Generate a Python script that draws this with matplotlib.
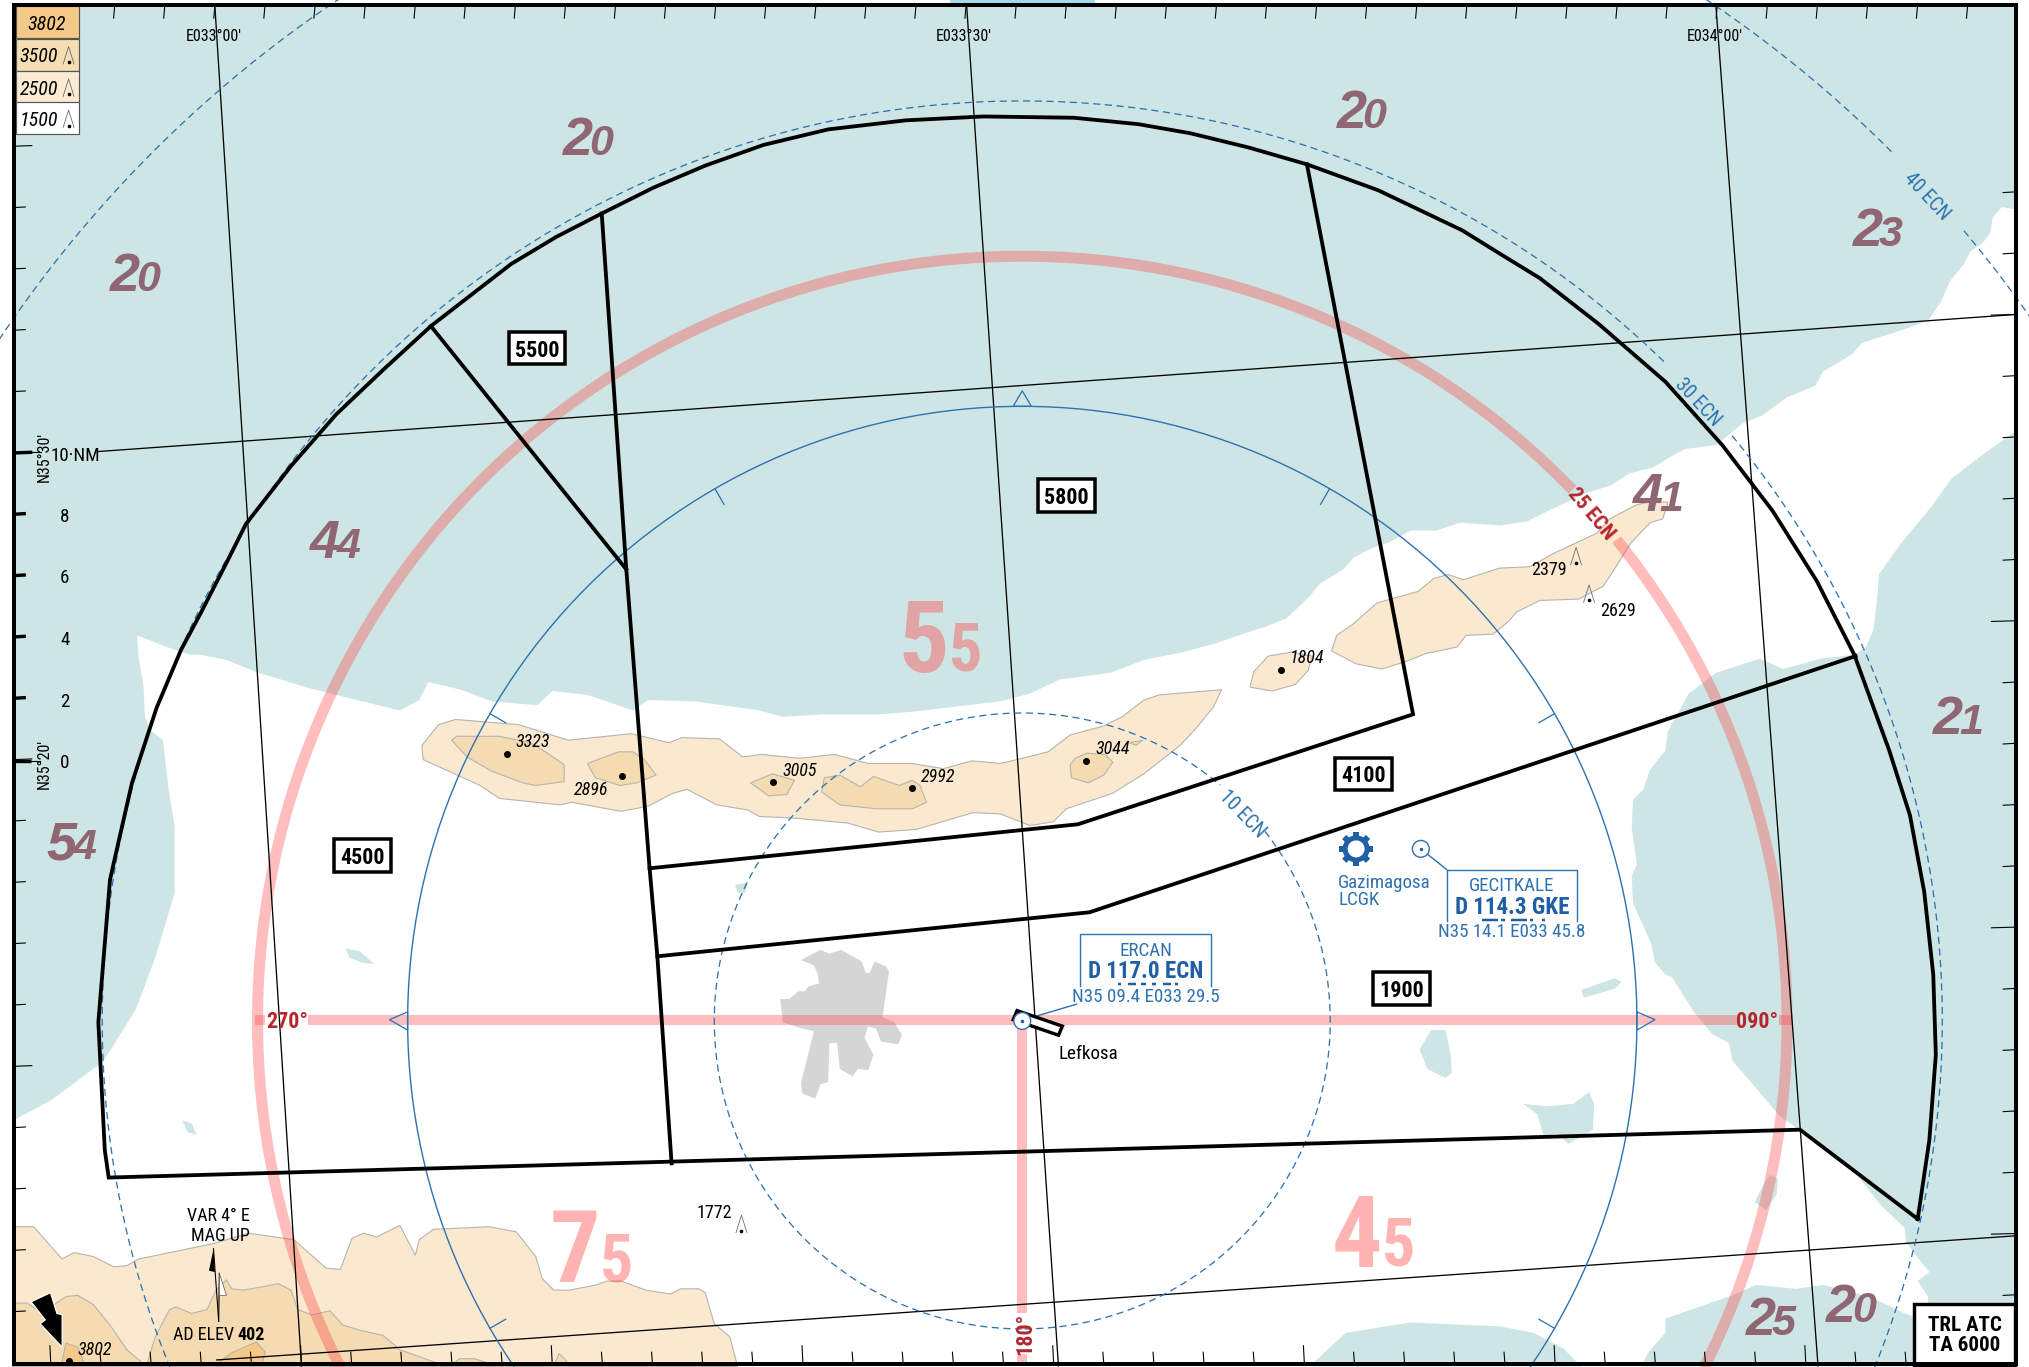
import numpy as np
import matplotlib
matplotlib.use("Agg")
import matplotlib.pyplot as plt
from matplotlib.patches import Polygon, Rectangle, Circle

W, H = 1568, 1056.4
NARROW = ["Roboto Condensed", "Liberation Sans"]
WIDE = ["Liberation Sans"]

SEA = "#CEE5E5"
T1, T2, T3 = "#FAE9CF", "#F4DBB2", "#F4C987"
TEDGE = "#B7B4AE"
BLUE = "#2F72B2"
NAVBLUE = "#1F5FA5"
RED = "#B3272D"
MAUVE = "#8F6672"
PINKLINE = (1.0, 66 / 255, 66 / 255)

north_sea = [(10, 4), (1558, 4), (1558, 162), (1547, 160), (1540, 168), (1538, 180), (1532, 188), (1523, 194),
             (1517, 205), (1507, 217), (1500, 233), (1490, 248), (1467, 256), (1439, 265), (1431, 274), (1409, 287),
             (1403, 298), (1381, 307), (1362, 321), (1347, 327), (1326, 344), (1302, 347), (1291, 353), (1278, 361),
             (1259, 366), (1245, 375), (1226, 381), (1198, 394), (1180, 403), (1159, 406), (1128, 404), (1110, 410),
             (1090, 410), (1074, 419), (1059, 424), (1046, 431), (1038, 440), (1020, 451), (1012, 461), (994, 478),
             (979, 484), (963, 489), (940, 497), (914, 504), (884, 510), (858, 520),
             (819, 525), (796, 536), (773, 542), (705, 550), (679, 552), (637, 552), (605, 554), (587, 549),
             (537, 542), (501, 541), (489, 549), (454, 537), (427, 534), (415, 545), (380, 542), (356, 533),
             (331, 527), (324, 541), (309, 549), (280, 542), (240, 532), (200, 520), (175, 510), (155, 506),
             (147, 506), (129, 500), (106, 491), (107, 507), (111, 531), (112, 554), (117, 565), (126, 572),
             (130, 608), (135, 639), (135, 690), (120, 740), (105, 780), (80, 820), (40, 850), (10, 866)]
east_sea = [(1558, 333), (1534, 350), (1508, 370), (1493, 391), (1469, 420), (1452, 444), (1451, 459), (1448, 486),
            (1442, 500), (1433, 506), (1407, 509), (1378, 517), (1360, 509), (1326, 520), (1305, 536), (1289, 565),
            (1287, 580), (1275, 595), (1270, 610), (1262, 618), (1261, 640), (1265, 668), (1261, 677), (1262, 698),
            (1276, 729), (1279, 744), (1287, 753), (1292, 755), (1309, 782), (1323, 799), (1336, 806), (1339, 820),
            (1352, 835), (1375, 862), (1390, 873), (1435, 908), (1454, 932), (1472, 949), (1473, 960), (1482, 972),
            (1491, 983), (1482, 990), (1490, 1002), (1490, 1056), (1558, 1056)]
se_sea = [(1268, 1056), (1274, 1045), (1287, 1030), (1287, 1019), (1310, 1011), (1339, 1001), (1357, 993), (1388, 996),
          (1409, 993), (1433, 999), (1451, 1005), (1472, 1015), (1480, 1018), (1480, 1056)]
s_sea = [(1012, 1056), (1040, 1030), (1090, 1022), (1159, 1025), (1185, 1030), (1208, 1042), (1222, 1056)]
lakes = [
    [(1222, 765), (1248, 756), (1253, 759), (1248, 764), (1224, 771)],
    [(1177, 853), (1195, 855), (1216, 853), (1228, 844), (1232, 853), (1231, 873), (1212, 884), (1203, 876), (1193, 878), (1188, 861)],
    [(1106, 796), (1117, 796), (1121, 814), (1122, 829), (1117, 833), (1103, 826), (1097, 811)],
    [(267, 733), (278, 735), (289, 745), (280, 744), (270, 740)],
    [(568, 684), (578, 682), (576, 690), (570, 690)],
    [(141, 866), (148, 868), (152, 877), (145, 875)],
    [(1368, 908), (1374, 911), (1373, 923), (1365, 935), (1356, 929), (1362, 917)],
]
city = [(619, 742), (634, 734), (641, 737), (650, 734), (666, 743), (669, 752), (672, 752), (676, 743), (685, 747),
        (687, 751), (682, 786), (691, 790), (697, 800), (694, 807), (681, 805), (677, 795), (671, 793), (668, 802),
        (675, 815), (671, 827), (663, 826), (659, 832), (649, 826), (647, 806), (641, 806), (640, 836), (634, 838),
        (630, 849), (620, 845), (619, 837), (629, 797), (617, 794), (605, 790), (603, 772), (610, 772), (617, 766),
        (622, 766), (625, 762), (633, 760), (632, 753), (629, 746)]

range_main = [(326, 576), (339, 560), (352, 556), (401, 560), (439, 572), (488, 567), (517, 574), (527, 570), (556, 571),
              (574, 585), (588, 583), (618, 586), (645, 583), (671, 590), (705, 590), (729, 594), (751, 588), (773, 590),
              (786, 587), (810, 581), (827, 568), (853, 561), (867, 554), (884, 541), (896, 537), (944, 533), (938, 546),
              (925, 562), (912, 576), (884, 598), (860, 613), (824, 625), (814, 635), (796, 638), (773, 629), (752, 628),
              (708, 641), (679, 643), (655, 636), (611, 632), (587, 631), (578, 626), (554, 622), (531, 610), (520, 613),
              (501, 623), (480, 627), (442, 620), (433, 622), (386, 617), (371, 607), (327, 587)]
range_1804 = [(966, 531), (969, 519), (980, 507), (998, 504), (1014, 507), (1011, 518), (1001, 529), (983, 534)]
range_karpas = [(1029, 503), (1033, 491), (1046, 482), (1064, 466), (1096, 457), (1108, 447), (1119, 444), (1131, 448),
                (1159, 439), (1182, 438), (1200, 428), (1234, 412), (1244, 401), (1265, 390), (1274, 388), (1289, 388),
                (1285, 401), (1275, 404), (1260, 420), (1252, 433), (1239, 453), (1220, 463), (1190, 464), (1172, 473),
                (1166, 480), (1154, 490), (1133, 491), (1126, 500), (1102, 505), (1087, 511), (1068, 517), (1048, 513)]
range_south = [(10, 948), (26, 948), (48, 973), (57, 968), (72, 971), (88, 979), (98, 978), (107, 973), (165, 961),
               (192, 953), (227, 958), (252, 980), (263, 981), (272, 957), (281, 953), (291, 956), (309, 947), (321, 970),
               (324, 958), (335, 950), (378, 948), (399, 952), (414, 971), (419, 988), (428, 997), (440, 997), (461, 993),
               (469, 990), (480, 990), (499, 997), (518, 1000), (526, 996), (540, 996), (545, 999), (552, 1023),
               (564, 1033), (570, 1056), (10, 1056)]
level2 = [
    [(349, 572), (353, 569), (386, 569), (410, 574), (423, 582), (436, 591), (436, 604), (414, 607), (404, 605), (380, 596), (361, 585)],
    [(454, 590), (478, 581), (489, 581), (498, 587), (507, 599), (492, 605), (479, 607), (460, 601)],
    [(580, 605), (597, 598), (614, 603), (608, 614), (594, 615)],
    [(635, 612), (637, 601), (649, 599), (665, 608), (675, 600), (695, 607), (705, 603), (711, 607), (716, 620), (705, 625), (677, 625), (649, 622)],
    [(827, 591), (831, 586), (840, 582), (854, 583), (860, 589), (853, 599), (841, 605), (828, 601)],
    [(873, 574), (883, 572), (878, 576)],
    [(10, 1007), (21, 1007), (33, 1015), (42, 1008), (51, 1002), (60, 1001), (72, 1008), (85, 1024), (98, 1043), (113, 1056), (10, 1056)],
    [(113, 1056), (120, 1033), (131, 1012), (136, 1010), (148, 1015), (160, 1012), (167, 997), (175, 989), (179, 996), (188, 997),
     (205, 994), (215, 992), (225, 997), (230, 1012), (241, 1016), (255, 1013), (265, 1024), (278, 1028), (296, 1032), (309, 1043), (345, 1056)],
    [(347, 1056), (355, 1050), (367, 1050), (376, 1053), (378, 1056)],
    [(428, 1056), (432, 1046), (442, 1056)],
]
level3 = [
    [(47, 1056), (51, 1038), (60, 1041), (66, 1056)],
    [(165, 1056), (178, 1046), (198, 1037), (205, 1045), (202, 1056)],
]

# MSA sector boundaries
msa_outer = [(1482, 942), (1491, 881), (1496, 815), (1494, 753), (1487, 689), (1476, 630), (1460, 580), (1433, 506),
             (1404, 449), (1370, 395), (1331, 344), (1287, 295), (1235, 250), (1190, 215), (1159, 196), (1130, 178),
             (1065, 147), (1010, 127), (965, 114), (920, 103), (880, 96), (830, 91), (760, 90), (700, 93), (640, 100),
             (590, 112), (545, 128), (505, 145), (465, 165), (430, 183), (395, 204), (333, 252), (297, 285), (260, 320),
             (225, 360), (190, 405), (175, 435), (155, 474), (140, 502), (121, 547), (102, 605), (89, 662), (85, 680),
             (76, 790), (81, 889), (84, 910), (1391, 873), (1482, 942)]
msa_lines = [
    [(1434, 507), (842, 705), (508, 739)],
    [(1010, 127), (1092, 552), (833, 637), (502, 671)],
    [(465, 165), (484, 440), (502, 671), (508, 739), (519, 899)],
    [(333, 252), (484, 440)],
]
msa_alt = ["5500", "5800", "4100", "4500", "1900"]
msa_alt_pos = [(415, 269), (824, 383), (1054, 598), (280, 661), (1083, 764)]

# lat/lon grid
meridians = [((166, 4), (233, 1056)), ((747, 4), (818, 1056)), ((1326, 4), (1405, 1056))]
parallels = [((75, 349), (1558, 243)), ((167, 1051), (1558, 955))]
lon_labels = ["E033°00'", "E033°30'", "E034°00'"]
lon_label_x = [165, 745, 1325]
scale_labels = ["8", "6", "4", "2", "0"]
scale_y = [398, 445, 493, 541, 588]

# range rings, NM scale
CENTER = (790, 789)
R_10, R_20, R_25, R_30, R_40 = 238, 475, 591, 711, 950
ring_ticks = [30, 60, 120, 240, 300, 330]

# grid altitudes: big digit, small digit, centre
mauve_nums = ["20", "20", "20", "23", "41", "44", "54", "21", "25", "20"]
mauve_pos = [(455, 106), (105, 211), (1053, 85), (1452, 176), (1282, 381), (260, 417), (56, 650), (1514, 553), (1369, 1018), (1431, 1008)]
pink_nums = ["55", "75", "45"]
pink_split = [(733, 519), (464, 991), (1068, 979)]

spot_heights = ["3323", "2896", "3005", "2992", "3044", "1804"]
spot_dots = [(392, 583), (481, 600), (597, 604), (705, 609), (839, 588), (990, 518)]
spot_text = [(412, 572), (457, 609), (618, 594), (725, 599), (860, 577), (1010, 507)]
peaks = [(1218, 430), (1228, 459), (573, 946)]
peak_labels = ["2379", "2629", "1772"]
peak_label_pos = [(1197, 439), (1250, 471), (552, 936)]

legend_vals = ["3802", "3500", "2500", "1500"]
legend_cols = [T3, "#F5DEB4", "#FCEBD2", "white"]
legend_top = [5, 30, 55, 79]

fig = plt.figure(figsize=(20.29, 13.67), dpi=100)
ax = fig.add_axes([0, 0, 1, 1])
ax.set_xlim(0, W)
ax.set_ylim(H, 0)
ax.axis("off")


def px(v):
    # reference pixels to points
    return v * 0.72


def bearing_arc(r, b1, b2):
    t = np.radians(np.linspace(b1, b2, 240))
    return CENTER[0] + r * np.sin(t), CENTER[1] - r * np.cos(t)


def label(x, y, s, size, fam=NARROW, color="black", weight="normal", style="normal", rot=0, ha="center", z=20):
    return ax.text(x, y, s, fontsize=px(size), family=fam, color=color, fontweight=weight, fontstyle=style,
                   rotation=rot, rotation_mode="anchor", ha=ha, va="center_baseline", zorder=z)


def peak(x, y, z=12):
    ax.plot([x - 4.2, x, x + 4.2], [y + 6.5, y - 7, y + 6.5], color="#6E6E6E", lw=0.6, zorder=z)
    ax.plot([x], [y + 5], "o", color="black", ms=1.6, zorder=z)


# sliver of the page colour above the frame
ax.add_patch(Rectangle((734, 0), 112, 2.4, fc="#A6DAE9", ec="none", zorder=0))

for poly in [north_sea, east_sea, se_sea, s_sea] + lakes:
    ax.add_patch(Polygon(poly, closed=True, fc=SEA, ec="none", zorder=1))
for poly in [range_main, range_1804, range_karpas, range_south]:
    ax.add_patch(Polygon(poly, closed=True, fc=T1, ec=TEDGE, lw=0.8, zorder=2))
for poly in level2:
    ax.add_patch(Polygon(poly, closed=True, fc=T2, ec=TEDGE, lw=0.8, zorder=3))
for poly in level3:
    ax.add_patch(Polygon(poly, closed=True, fc=T3, ec=TEDGE, lw=0.8, zorder=4))
ax.add_patch(Polygon(city, closed=True, fc="#D5D5D5", ec="none", zorder=4))

# 25 NM arc and the cardinal radials, one path each so overlaps stay flat
x1, y1 = bearing_arc(R_25, -117, 46)
x2, y2 = bearing_arc(R_25, 51, 117)
ax.plot(np.r_[x1, np.nan, x2], np.r_[y1, np.nan, y2], color=PINKLINE, alpha=0.35, lw=px(11), solid_capstyle="butt", zorder=5)
ax.plot([197, 205, np.nan, 238, 1342, np.nan, 1375, 1385, np.nan, 790, 790, np.nan, 790, 790],
        [788, 788, np.nan, 788, 788, np.nan, 788, 788, np.nan, 788, 1015, np.nan, 1046, 1056],
        color=PINKLINE, alpha=0.35, lw=px(10), solid_capstyle="butt", zorder=5)

for a, b in meridians + parallels:
    ax.plot([a[0], b[0]], [a[1], b[1]], color="black", lw=px(1.3), zorder=6, solid_capstyle="butt")

# ticks on the frame
for n in range(-3, 36):
    tx = 166 + n * 38.7
    ax.plot([tx, tx - 0.8], [5, 14], color="black", lw=px(1.1), zorder=7)
for n in range(-5, 33):
    tx = 233 + n * 38.75
    if 10 < tx < 1478:
        ax.plot([tx, tx - 0.7], [1054, 1040 if n % 5 == 0 else 1045], color="black", lw=px(1.1), zorder=7)
for n in range(-5, 15):
    ty = 350 + n * 47.4
    if 105 < ty < 1040:
        bold = 0 <= n <= 4
        lt = 25 if n in (0, 5, -5, 10) else 20
        ax.plot([11, lt], [ty, ty - 0.5], color="black", lw=px(3.4 if bold else 1.1), zorder=7, solid_capstyle="butt")
ax.plot([11, 24], [588, 588], color="black", lw=px(3.4), zorder=7, solid_capstyle="butt")
ax.plot([24, 32], [349, 349], color="black", lw=px(1.1), zorder=7)
ax.plot([24, 31], [588, 588], color="black", lw=px(1.1), zorder=7)
for n in range(-2, 17):
    ty = 243 + n * 47.35
    if 100 < ty < 1010:
        ax.plot([1557, 1539 if n % 5 == 0 else 1548], [ty, ty + 0.5], color="black", lw=px(1.1), zorder=7)

# range rings
dash = (0, (5.5, 3.5))
for r, gaps in [(R_10, (40, 52)), (R_30, (44.5, 50.5)), (R_40, (45, 50))]:
    x, y = bearing_arc(r, -180, gaps[0])
    ax.plot(x, y, color=BLUE, lw=px(1.3), ls=dash, zorder=8)
    x, y = bearing_arc(r, gaps[1], 180)
    ax.plot(x, y, color=BLUE, lw=px(1.3), ls=dash, zorder=8)
ring = bearing_arc(R_20, -180, 180)
ax.plot(ring[0], ring[1], color=BLUE, lw=px(1.4), zorder=8)
for b in ring_ticks:
    xa, ya = bearing_arc(R_20, b, b)
    xb, yb = bearing_arc(R_20 - 14, b, b)
    ax.plot([xa[0], xb[0]], [ya[0], yb[0]], color=BLUE, lw=px(1.3), zorder=8)
cx, cy = CENTER
for tri in ([(cx - 7, cy - R_20), (cx, cy - R_20 - 12), (cx + 7, cy - R_20)],
            [(cx + R_20, cy - 7), (cx + R_20 + 14, cy - 1), (cx + R_20, cy + 7)],
            [(cx - R_20, cy - 7), (cx - R_20 - 14, cy - 1), (cx - R_20, cy + 7)]):
    ax.add_patch(Polygon(tri, closed=True, fc="none", ec=BLUE, lw=px(1.3), zorder=8))

label(961, 628, "10 ECN", 20, color=BLUE, rot=-46)
label(1313, 310, "30 ECN", 20, color=BLUE, rot=-47)
label(1490, 151, "40 ECN", 20, color=BLUE, rot=-47)
label(1231, 396, "25 ECN", 21, color=RED, weight="bold", rot=-50)
label(222, 788, "270°", 22, color=RED, weight="bold")
label(1358, 788, "090°", 22, color=RED, weight="bold")
label(790, 1031, "180°", 22, color=RED, weight="bold", rot=90)

# MSA sectors
xs, ys = zip(*msa_outer)
ax.plot(xs, ys, color="black", lw=px(3.8), solid_joinstyle="miter", zorder=10)
for line in msa_lines:
    xs, ys = zip(*line)
    ax.plot(xs, ys, color="black", lw=px(3.8), solid_joinstyle="miter", zorder=10)
for s, (x, y) in zip(msa_alt, msa_alt_pos):
    ax.add_patch(Rectangle((x - 22, y - 12.5), 44, 25, fc="white", ec="black", lw=px(3.5), zorder=11))
    label(x, y, s, 22, weight="bold")

# terrain spots and obstacles
for s, d, t in zip(spot_heights, spot_dots, spot_text):
    ax.plot([d[0]], [d[1]], "o", color="black", ms=px(7), mew=0, zorder=12)
    label(t[0], t[1], s, 18, style="italic")
for p, s, t in zip(peaks, peak_labels, peak_label_pos):
    peak(p[0], p[1])
    label(t[0], t[1], s, 18)

# ERCAN and GECITKALE navaid boxes
for left, right, top, bottom, name, freq, pos in [
    (835, 936, 722, 762, "ERCAN", "D 117.0 ECN", "N35 09.4 E033 29.5"),
    (1118, 1219, 672, 712, "GECITKALE", "D 114.3 GKE", "N35 14.1 E033 45.8"),
]:
    ax.plot([left, left, right, right], [bottom, top, top, bottom], color=BLUE, lw=px(1.4), zorder=12, solid_joinstyle="miter")
    mid = (left + right) / 2
    label(mid, top + 11, name, 19, color=BLUE)
    label(mid, top + 27, freq, 23, color=NAVBLUE, weight="bold")
    label(mid, top + 47, pos, 19, color=BLUE)
morse_ercan = [(864, 866), (872, 878), (882, 886), (890, 893), (899, 905), (908, 910)]
morse_gke = [(1145, 1158), (1160, 1163), (1168, 1180), (1182, 1185), (1192, 1194)]
for seg in morse_ercan:
    ax.plot(seg, [760.5, 760.5], color=NAVBLUE, lw=px(2.5), solid_capstyle="butt", zorder=12)
for seg in morse_gke:
    ax.plot(seg, [711, 711], color=NAVBLUE, lw=px(2.5), solid_capstyle="butt", zorder=12)
ax.plot([800, 832], [785.5, 776], color=BLUE, lw=px(1.4), zorder=12)
ax.plot([1103, 1118], [660, 672], color=BLUE, lw=px(1.4), zorder=12)
ax.add_patch(Polygon([(786, 781), (821, 793), (818, 800), (783, 788)], closed=True, fc="white", ec="black", lw=px(3.4), zorder=13))
ax.add_patch(Circle((790, 789), 6.5, fc="white", ec=BLUE, lw=px(1.4), zorder=14))
ax.plot([790], [789], "o", color=NAVBLUE, ms=px(3.5), mew=0, zorder=15)
ax.add_patch(Circle((1098, 656), 6.5, fc="white", ec=BLUE, lw=px(1.4), zorder=14))
ax.plot([1098], [656], "o", color=NAVBLUE, ms=px(3.5), mew=0, zorder=15)
label(841, 813, "Lefkosa", 19)

# Gazimagosa aerodrome symbol
ax.add_patch(Circle((1048, 656), 8.5, fc="white", ec=NAVBLUE, lw=px(5), zorder=12))
for b in range(0, 360, 45):
    xa, ya = 1048 + 9 * np.sin(np.radians(b)), 656 - 9 * np.cos(np.radians(b))
    xb, yb = 1048 + 13 * np.sin(np.radians(b)), 656 - 13 * np.cos(np.radians(b))
    ax.plot([xa, xb], [ya, yb], color=NAVBLUE, lw=px(6), solid_capstyle="butt", zorder=12)
label(1034, 681, "Gazimagosa", 19, color=BLUE, ha="left")
label(1034, 694, "LCGK", 19, color=BLUE, ha="left")

# grid altitudes
for s, (x, y) in zip(mauve_nums, mauve_pos):
    ax.text(x + 3, y + 14, s[0], fontsize=px(54), family=WIDE, color=MAUVE, fontweight="bold", fontstyle="italic", ha="right", va="baseline", zorder=9)
    ax.text(x, y + 14, s[1], fontsize=px(43), family=WIDE, color=MAUVE, fontweight="bold", fontstyle="italic", ha="left", va="baseline", zorder=9)
for s, (x, y) in zip(pink_nums, pink_split):
    ax.text(x, y, s[0], fontsize=px(100), family=NARROW, color=PINKLINE, alpha=0.4, fontweight="bold", ha="right", va="baseline", zorder=9)
    ax.text(x, y - 1, s[1], fontsize=px(66), family=NARROW, color=PINKLINE, alpha=0.4, fontweight="bold", ha="left", va="baseline", zorder=9)

# left scale
ax.text(58, 351, "10·NM", fontsize=px(19), family=NARROW, ha="center", va="center_baseline", zorder=20)
for s, y in zip(scale_labels, scale_y):
    label(50, y, s, 19)
label(33, 353, "N35°30'", 16, rot=90)
label(33, 590, "N35°20'", 16, rot=90)
for s, x in zip(lon_labels, lon_label_x):
    label(x, 27, s, 16)

# VAR note and north arrows
label(169, 938, "VAR 4° E", 18)
label(170, 954, "MAG UP", 18)
label(157.5, 1030, "AD ELEV", 18)
label(194, 1030, "402", 18, weight="bold")
ax.plot([165, 169], [965, 1021], color="black", lw=px(1.1), zorder=13)
ax.plot([169.5, 169], [984, 1021], color="black", lw=px(1.1), zorder=13)
ax.add_patch(Polygon([(165, 965), (161.5, 982), (166, 983)], closed=True, fc="black", ec="none", zorder=13))
ax.add_patch(Polygon([(169.5, 984), (175, 1001), (169.5, 1001)], closed=True, fc="white", ec="#555555", lw=0.5, zorder=13))
ax.add_patch(Polygon([(24, 1006), (39, 999), (44, 1015), (48, 1016), (48, 1041), (31, 1023), (35, 1020)],
                     closed=True, fc="black", ec="white", lw=px(1.2), zorder=13))
ax.plot([53], [1052], "o", color="black", ms=px(7), mew=0, zorder=14)
label(73, 1042, "3802", 18, style="italic")

# legend stack
for val, col, top in zip(legend_vals, legend_cols, legend_top):
    ax.add_patch(Rectangle((12, top), 49, 24.5, fc=col, ec="#555555", lw=px(1.2), zorder=16))
    if val == "3802":
        label(36, top + 12.5, val, 20, style="italic")
    else:
        label(30, top + 12.5, val, 20, style="italic")
        peak(53, top + 13, z=17)

# TRL box
ax.add_patch(Rectangle((1479, 1007.5), 78, 47, fc="white", ec="black", lw=px(3.4), zorder=18))
label(1518.5, 1023, "TRL ATC", 21, weight="bold")
label(1518.5, 1038, "TA 6000", 21, weight="bold")

# outer frame
ax.add_patch(Rectangle((10.8, 4.2), 1546.8, 1050.2, fc="none", ec="black", lw=px(4), zorder=19))

fig.savefig("out.png", dpi=100, facecolor="white")
